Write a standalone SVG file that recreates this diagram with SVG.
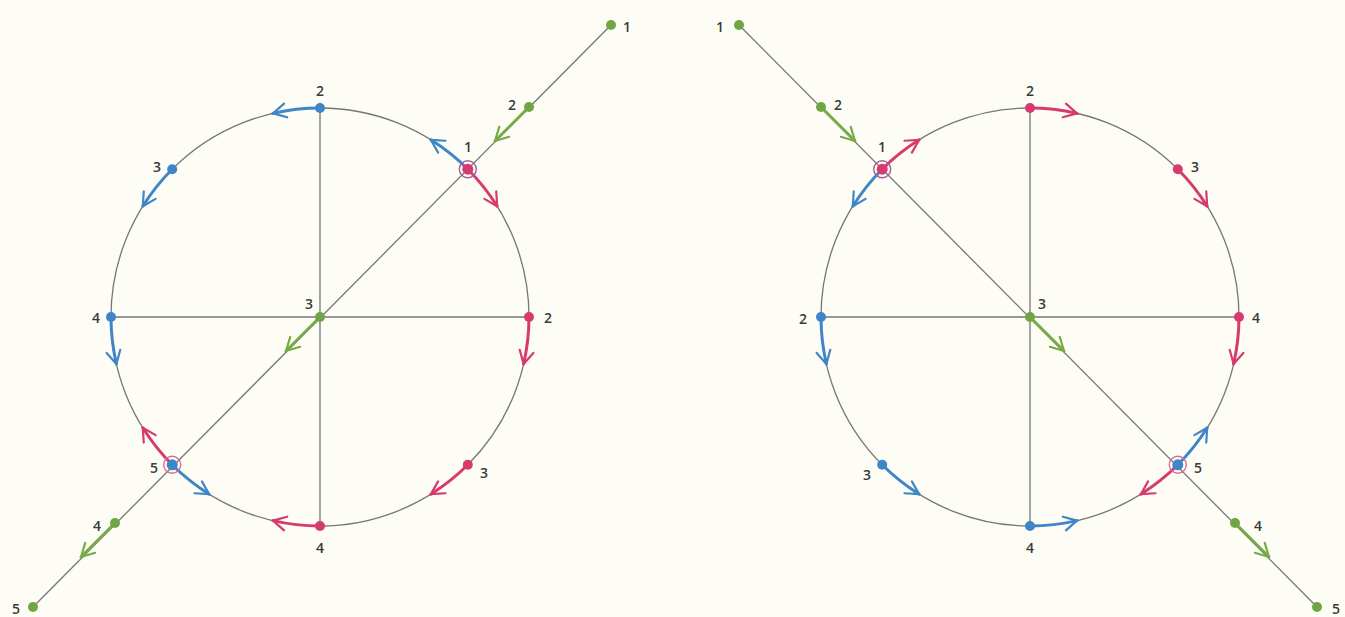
<svg xmlns="http://www.w3.org/2000/svg" width="1345" height="617" viewBox="0 0 1345 617">
<style>
.ln{fill:none;stroke:#767676;stroke-width:1.3}
.r{fill:none;stroke:#d63a6e;stroke-width:3;stroke-linecap:round;marker-end:url(#mr)}
.b{fill:none;stroke:#3f86c8;stroke-width:3;stroke-linecap:round;marker-end:url(#mb)}
.g{fill:none;stroke:#76ab48;stroke-width:3;stroke-linecap:round;marker-end:url(#mg)}
.dr{fill:#d63a6e}.db{fill:#3f86c8}.dg{fill:#6fa544}
.ring{fill:none;stroke:#a2609e;stroke-width:1.4}
text{font-family:"Open Sans","Liberation Sans",sans-serif;font-size:14px;font-weight:600;fill:#3a3a3a;text-anchor:middle;dominant-baseline:central}
</style>
<defs>
<marker id="mr" viewBox="-16 -10 20 20" refX="0" refY="0" markerWidth="20" markerHeight="20" markerUnits="userSpaceOnUse" orient="auto"><path d="M-13,-7 L0,0 L-13,7" fill="none" stroke="#d63a6e" stroke-width="2.2" stroke-linecap="round" stroke-linejoin="round"/></marker>
<marker id="mb" viewBox="-16 -10 20 20" refX="0" refY="0" markerWidth="20" markerHeight="20" markerUnits="userSpaceOnUse" orient="auto"><path d="M-13,-7 L0,0 L-13,7" fill="none" stroke="#3f86c8" stroke-width="2.2" stroke-linecap="round" stroke-linejoin="round"/></marker>
<marker id="mg" viewBox="-16 -10 20 20" refX="0" refY="0" markerWidth="20" markerHeight="20" markerUnits="userSpaceOnUse" orient="auto"><path d="M-13,-7 L0,0 L-13,7" fill="none" stroke="#76ab48" stroke-width="2.2" stroke-linecap="round" stroke-linejoin="round"/></marker>
</defs>
<rect width="1345" height="617" fill="#fdfdf5"/>

<g id="left-frame">
<circle class="ln" cx="320" cy="317" r="209"/>
<line class="ln" x1="111" y1="317" x2="529" y2="317"/>
<line class="ln" x1="320" y1="108" x2="320" y2="526"/>
<line class="ln" x1="611" y1="25" x2="33" y2="607"/>
</g>
<g id="right-frame">
<circle class="ln" cx="1030" cy="317" r="209"/>
<line class="ln" x1="821" y1="317" x2="1239" y2="317"/>
<line class="ln" x1="1030" y1="108" x2="1030" y2="526"/>
<line class="ln" x1="739" y1="25" x2="1317" y2="607"/>
</g>

<g id="connectors">
<!-- left blue (counter-clockwise) -->
<path class="b" d="M467.8,169.2 A209,209 0 0 0 430.8,139.8"/>
<path class="b" d="M320,108 A209,209 0 0 0 273,113.4"/>
<path class="b" d="M172.2,169.2 A209,209 0 0 0 142.8,206.2"/>
<path class="b" d="M111,317 A209,209 0 0 0 116.4,364"/>
<path class="b" d="M172.2,464.8 A209,209 0 0 0 209.2,494.2"/>
<!-- left red (clockwise) -->
<path class="r" d="M467.8,169.2 A209,209 0 0 1 497.2,206.2"/>
<path class="r" d="M529,317 A209,209 0 0 1 523.6,364"/>
<path class="r" d="M467.8,464.8 A209,209 0 0 1 430.8,494.2"/>
<path class="r" d="M320,526 A209,209 0 0 1 273,520.6"/>
<path class="r" d="M172.2,464.8 A209,209 0 0 1 142.8,427.8"/>
<!-- left green -->
<line class="g" x1="529" y1="107" x2="495" y2="141"/>
<line class="g" x1="320" y1="317" x2="286" y2="351"/>
<line class="g" x1="115" y1="523" x2="81" y2="557"/>
<!-- right red (clockwise) -->
<path class="r" d="M882.2,169.2 A209,209 0 0 1 919.2,139.8"/>
<path class="r" d="M1030,108 A209,209 0 0 1 1077,113.4"/>
<path class="r" d="M1177.8,169.2 A209,209 0 0 1 1207.2,206.2"/>
<path class="r" d="M1239,317 A209,209 0 0 1 1233.6,364"/>
<path class="r" d="M1177.8,464.8 A209,209 0 0 1 1140.8,494.2"/>
<!-- right blue (counter-clockwise) -->
<path class="b" d="M882.2,169.2 A209,209 0 0 0 852.8,206.2"/>
<path class="b" d="M821,317 A209,209 0 0 0 826.4,364"/>
<path class="b" d="M882.2,464.8 A209,209 0 0 0 919.2,494.2"/>
<path class="b" d="M1030,526 A209,209 0 0 0 1077,520.6"/>
<path class="b" d="M1177.8,464.8 A209,209 0 0 0 1207.2,427.8"/>
<!-- right green -->
<line class="g" x1="821" y1="107" x2="855" y2="141"/>
<line class="g" x1="1030" y1="317" x2="1064" y2="351"/>
<line class="g" x1="1235" y1="523" x2="1269" y2="557"/>
</g>

<g id="L-g1"><circle class="dg" cx="611" cy="25" r="5"/><text x="627" y="26">1</text></g>
<g id="L-g2"><circle class="dg" cx="529" cy="107" r="5"/><text x="512" y="104">2</text></g>
<g id="L-g3"><circle class="dg" cx="320" cy="317" r="5"/><text x="309" y="303">3</text></g>
<g id="L-g4"><circle class="dg" cx="115" cy="523" r="5"/><text x="97" y="525">4</text></g>
<g id="L-g5"><circle class="dg" cx="33" cy="607" r="5"/><text x="16" y="608">5</text></g>
<g id="L-p1"><circle class="ring" cx="467.8" cy="169.2" r="8.5"/><circle class="dr" cx="467.8" cy="169.2" r="5.5"/><text x="468" y="146">1</text></g>
<g id="L-b2"><circle class="db" cx="320" cy="108" r="5"/><text x="320" y="90">2</text></g>
<g id="L-b3"><circle class="db" cx="172.2" cy="169.2" r="5"/><text x="157" y="166">3</text></g>
<g id="L-b4"><circle class="db" cx="111" cy="317" r="5"/><text x="96" y="317">4</text></g>
<g id="L-p5"><circle class="ring" cx="172.2" cy="464.8" r="8.5" style="stroke:#d86a92"/><circle class="db" cx="172.2" cy="464.8" r="5.5"/><text x="154" y="467">5</text></g>
<g id="L-r2"><circle class="dr" cx="529" cy="317" r="5"/><text x="548" y="317">2</text></g>
<g id="L-r3"><circle class="dr" cx="467.8" cy="464.8" r="5"/><text x="484" y="472">3</text></g>
<g id="L-r4"><circle class="dr" cx="320" cy="526" r="5"/><text x="320" y="547">4</text></g>

<g id="R-g1"><circle class="dg" cx="739" cy="25" r="5"/><text x="720" y="26">1</text></g>
<g id="R-g2"><circle class="dg" cx="821" cy="107" r="5"/><text x="838" y="104">2</text></g>
<g id="R-g3"><circle class="dg" cx="1030" cy="317" r="5"/><text x="1042" y="303">3</text></g>
<g id="R-g4"><circle class="dg" cx="1235" cy="523" r="5"/><text x="1258" y="525">4</text></g>
<g id="R-g5"><circle class="dg" cx="1317" cy="607" r="5"/><text x="1336" y="608">5</text></g>
<g id="R-p1"><circle class="ring" cx="882.2" cy="169.2" r="8.5"/><circle class="dr" cx="882.2" cy="169.2" r="5.5"/><text x="882" y="146">1</text></g>
<g id="R-r2"><circle class="dr" cx="1030" cy="108" r="5"/><text x="1030" y="90">2</text></g>
<g id="R-r3"><circle class="dr" cx="1177.8" cy="169.2" r="5"/><text x="1195" y="166">3</text></g>
<g id="R-r4"><circle class="dr" cx="1239" cy="317" r="5"/><text x="1256" y="317">4</text></g>
<g id="R-p5"><circle class="ring" cx="1177.8" cy="464.8" r="8.5" style="stroke:#d86a92"/><circle class="db" cx="1177.8" cy="464.8" r="5.5"/><text x="1198" y="467">5</text></g>
<g id="R-b2"><circle class="db" cx="821" cy="317" r="5"/><text x="803" y="318">2</text></g>
<g id="R-b3"><circle class="db" cx="882.2" cy="464.8" r="5"/><text x="867" y="474">3</text></g>
<g id="R-b4"><circle class="db" cx="1030" cy="526" r="5"/><text x="1030" y="547">4</text></g>
</svg>
